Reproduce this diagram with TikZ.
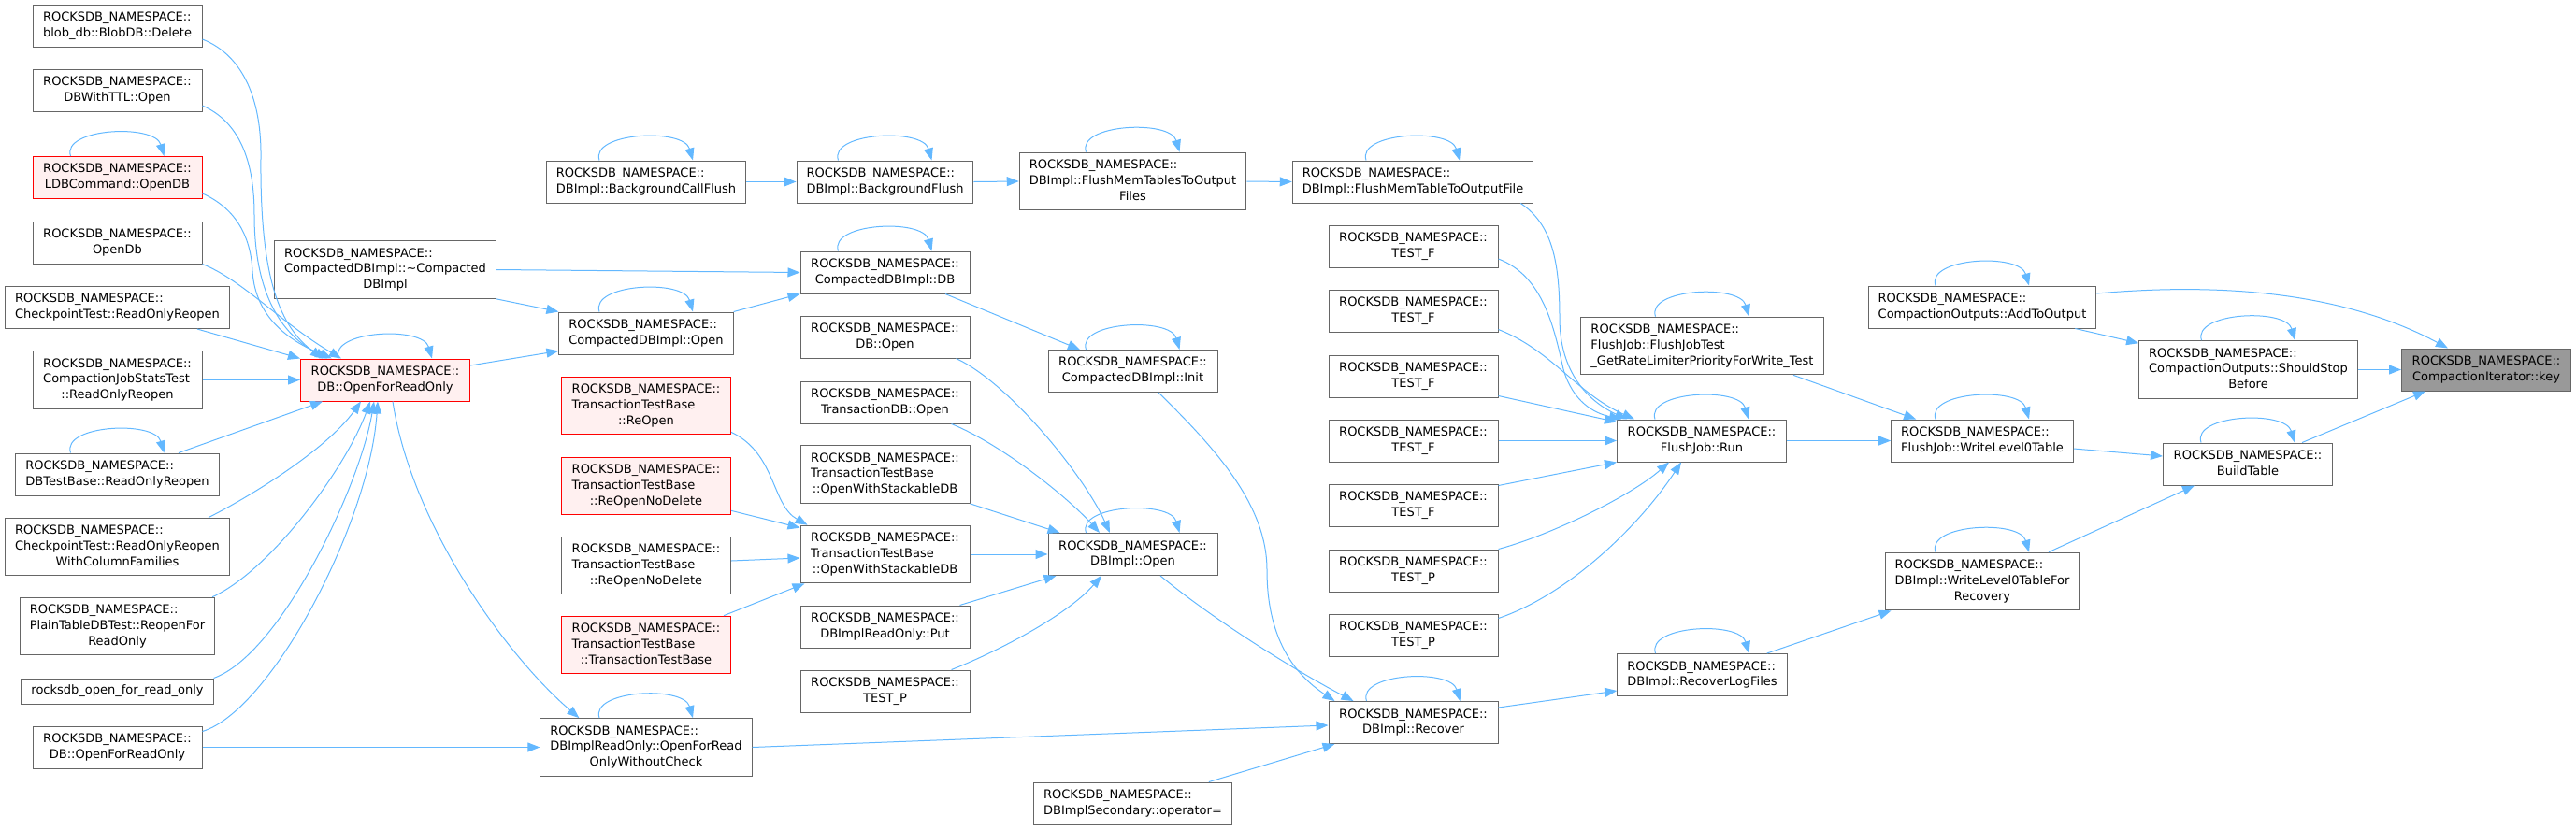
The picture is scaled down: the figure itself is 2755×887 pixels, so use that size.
\documentclass[tikz,border=0pt]{standalone}
\usepackage{fontspec}
\setmainfont{DejaVu Sans}
\usepackage{tikz}
\usetikzlibrary{arrows.meta,calc}
\definecolor{edgeblue}{HTML}{63B8FF}
\definecolor{nodegray}{HTML}{666666}
\definecolor{redfill}{HTML}{FFF0F0}
\definecolor{keyfill}{HTML}{999999}
\newcommand{\ns}{ROCKSDB\_NAMESPACE::}
\newcommand{\twol}[2]{\begin{tabular}{@{}l@{}}#1\\\multicolumn{1}{@{}c@{}}{#2}\end{tabular}}
\newcommand{\threel}[3]{\begin{tabular}{@{}l@{}}#1\\#2\\\multicolumn{1}{@{}c@{}}{#3}\end{tabular}}

\begin{document}
\begin{tikzpicture}[x=1pt, y=-1pt,
    box/.style={draw=nodegray, line width=1pt, fill=white, minimum width=181pt, minimum height=27pt, inner xsep=10.5pt, inner ysep=5.8pt, font={\fontsize{13}{16.7}\selectfont}},
    redbox/.style={box, draw=red, fill=redfill},
    mainbox/.style={box, fill=keyfill},
    arr/.style={-{Triangle[length=13pt,width=10pt]}, draw=edgeblue, line width=1pt}
]
\useasboundingbox (0,0) rectangle (2755,887);

% callers on the far left
\node[box] (blobdel) at (125.5,27.5) {\twol{\ns}{blob\_db::BlobDB::Delete}};
\node[box] (ttlopen) at (125.5,97) {\twol{\ns}{DBWithTTL::Open}};
\node[redbox] (ldbopen) at (125.5,190) {\twol{\ns}{LDBCommand::OpenDB}};
\node[box] (opendb) at (125.5,259.5) {\twol{\ns}{OpenDb}};
\node[box] (ckptreopen) at (125.5,329) {\twol{\ns}{CheckpointTest::ReadOnlyReopen}};
\node[box] (cjstreopen) at (125.5,406.5) {\threel{\ns}{CompactionJobStatsTest}{::ReadOnlyReopen}};
\node[box] (dbtbreopen) at (125.5,507.5) {\twol{\ns}{DBTestBase::ReadOnlyReopen}};
\node[box] (ckptcf) at (125.5,585) {\threel{\ns}{CheckpointTest::ReadOnlyReopen}{WithColumnFamilies}};
\node[box] (plainreopen) at (125.5,670) {\threel{\ns}{PlainTableDBTest::ReopenFor}{ReadOnly}};
\node[box] (rocksdbro) at (125.5,739.5) {rocksdb\_open\_for\_read\_only};
\node[box] (dbofro) at (125.5,799.5) {\twol{\ns}{DB::OpenForReadOnly}};

\node[box] (cdbdtor) at (412,288.5) {\threel{\ns}{CompactedDBImpl::\textasciitilde Compacted}{DBImpl}};
\node[redbox] (dbofrored) at (412,406.5) {\twol{\ns}{DB::OpenForReadOnly}};

\node[box] (bgcallflush) at (691,194.5) {\twol{\ns}{DBImpl::BackgroundCallFlush}};
\node[box] (cdbopen) at (691,356.5) {\twol{\ns}{CompactedDBImpl::Open}};
\node[redbox] (ttbreopen) at (691,434) {\threel{\ns}{TransactionTestBase}{::ReOpen}};
\node[redbox] (ttbreonodelred) at (691,520) {\threel{\ns}{TransactionTestBase}{::ReOpenNoDelete}};
\node[box] (ttbreonodel) at (691,605) {\threel{\ns}{TransactionTestBase}{::ReOpenNoDelete}};
\node[redbox] (ttbctor) at (691,690) {\threel{\ns}{TransactionTestBase}{::TransactionTestBase}};
\node[box] (rofrowc) at (691,799.5) {\threel{\ns}{DBImplReadOnly::OpenForRead}{OnlyWithoutCheck}};

\node[box] (bgflush) at (946.5,194.5) {\twol{\ns}{DBImpl::BackgroundFlush}};
\node[box] (cdbdb) at (946.5,291.5) {\twol{\ns}{CompactedDBImpl::DB}};
\node[box] (dbopen) at (946.5,360.5) {\twol{\ns}{DB::Open}};
\node[box] (txnopen) at (946.5,430.5) {\twol{\ns}{TransactionDB::Open}};
\node[box] (ttbows1) at (946.5,507.5) {\threel{\ns}{TransactionTestBase}{::OpenWithStackableDB}};
\node[box] (ttbows) at (946.5,593) {\threel{\ns}{TransactionTestBase}{::OpenWithStackableDB}};
\node[box] (roput) at (946.5,670.5) {\twol{\ns}{DBImplReadOnly::Put}};
\node[box] (testp0) at (946.5,739.5) {\twol{\ns}{TEST\_P}};

\node[box] (flushmts) at (1211.5,194) {\threel{\ns}{DBImpl::FlushMemTablesToOutput}{Files}};
\node[box] (cdbinit) at (1211.5,397) {\twol{\ns}{CompactedDBImpl::Init}};
\node[box] (implopen) at (1211.5,593) {\twol{\ns}{DBImpl::Open}};
\node[box] (secassign) at (1211.5,859.5) {\twol{\ns}{DBImplSecondary::operator=}};

\node[box] (flushmt) at (1511,194.5) {\twol{\ns}{DBImpl::FlushMemTableToOutputFile}};
\node[box] (testf1) at (1511.5,263.5) {\twol{\ns}{TEST\_F}};
\node[box] (testf2) at (1511.5,332.5) {\twol{\ns}{TEST\_F}};
\node[box] (testf3) at (1511.5,402.5) {\twol{\ns}{TEST\_F}};
\node[box] (testf4) at (1511.5,471.5) {\twol{\ns}{TEST\_F}};
\node[box] (testf5) at (1511.5,540.5) {\twol{\ns}{TEST\_F}};
\node[box] (testp1) at (1511.5,610.5) {\twol{\ns}{TEST\_P}};
\node[box] (testp2) at (1511.5,679.5) {\twol{\ns}{TEST\_P}};
\node[box] (recover) at (1511.5,773) {\twol{\ns}{DBImpl::Recover}};

\node[box] (fjtest) at (1820.5,370) {\threel{\ns}{FlushJob::FlushJobTest}{\_GetRateLimiterPriorityForWrite\_Test}};
\node[box] (fjrun) at (1820,471.5) {\twol{\ns}{FlushJob::Run}};
\node[box] (recoverlogs) at (1820.5,722) {\twol{\ns}{DBImpl::RecoverLogFiles}};

\node[box] (addtoout) at (2120,328.5) {\twol{\ns}{CompactionOutputs::AddToOutput}};
\node[box] (wl0t) at (2120,471.5) {\twol{\ns}{FlushJob::WriteLevel0Table}};
\node[box] (wl0tfr) at (2120,622) {\threel{\ns}{DBImpl::WriteLevel0TableFor}{Recovery}};

\node[box] (ssb) at (2404.5,395.5) {\threel{\ns}{CompactionOutputs::ShouldStop}{Before}};
\node[box] (buildtable) at (2404,496.5) {\twol{\ns}{BuildTable}};

\node[mainbox] (key) at (2659,395.5) {\twol{\ns}{CompactionIterator::key}};

% recursive calls
\foreach \n in {ldbopen,dbofrored,dbtbreopen,bgcallflush,cdbopen,rofrowc,bgflush,cdbdb,flushmts,cdbinit,implopen,flushmt,recover,fjtest,fjrun,recoverlogs,addtoout,wl0t,wl0tfr,ssb,buildtable}
  \draw[arr] ([xshift=-50pt]\n.north) .. controls +(-10,-30) and +(-10,-35) .. ([xshift=50pt]\n.north);

% into DB::OpenForReadOnly
\draw[arr] ($(blobdel.east)+(0,14.5)$) .. controls (262,60) and (280,110) .. (279,170) .. controls (278,300) and (300,350) .. ($(dbofrored.north)+(-67,0)$);
\draw[arr] ($(ttlopen.east)+(0,16)$) .. controls (255,130) and (272,170) .. (272,230) .. controls (272,320) and (305,360) .. ($(dbofrored.north)+(-62,0)$);
\draw[arr] ($(ldbopen.east)+(0,17)$) .. controls (250,222) and (268,250) .. (270,290) .. controls (273,340) and (310,365) .. ($(dbofrored.north)+(-57,0)$);
\draw[arr] (opendb.south east) .. controls (260,300) and (300,345) .. ($(dbofrored.north)+(-47,0)$);
\draw[arr] ($(ckptreopen.south east)+(-35,0)$) -- (dbofrored.north west);
\draw[arr] (cjstreopen.east) -- (dbofrored.west);
\draw[arr] ($(dbtbreopen.north)+(65.5,0)$) -- ($(dbofrored.south)+(-67,0)$);
\draw[arr] ($(ckptcf.north)+(97.5,0)$) .. controls (270,530) and (350,480) .. ($(dbofrored.south)+(-26,0)$);
\draw[arr] ($(plainreopen.north east)+(-3,0)$) .. controls (290,610) and (370,500) .. ($(dbofrored.south)+(-16,0)$);
\draw[arr] (rocksdbro.north east) .. controls (300,700) and (385,520) .. ($(dbofrored.south)+(-12,0)$);
\draw[arr] ($(dbofro.east)+(0,-17)$) .. controls (290,760) and (395,560) .. ($(dbofrored.south)+(-8,0)$);

% compacted db and read only
\draw[arr] ($(dbofrored.east)+(0,-15.5)$) -- ($(cdbopen.south west)+(0,-4)$);
\draw[arr] ($(dbofrored.south)+(8,0)$) .. controls (440,560) and (540,700) .. ($(rofrowc.north west)+(42,0)$);
\draw[arr] (dbofro.east) -- (rofrowc.west);
\draw[arr] (cdbdtor.east) -- (cdbdb.west);
\draw[arr] (cdbdtor.south east) -- (cdbopen.north west);
\draw[arr] (cdbopen.north east) -- (cdbdb.south west);
\draw[arr] ($(cdbdb.south)+(64.5,0)$) -- ($(cdbinit.north)+(-56.5,0)$);
\draw[arr] ($(cdbinit.south)+(27.5,0)$) .. controls (1300,480) and (1355,540) .. (1355,610) .. controls (1355,690) and (1390,725) .. ($(recover.north west)+(7,0)$);

% flush chain
\draw[arr] (bgcallflush.east) -- (bgflush.west);
\draw[arr] (bgflush.east) -- (flushmts.west);
\draw[arr] (flushmts.east) -- (flushmt.west);
\draw[arr] ($(flushmt.south east)+(-14,0)$) .. controls (1660,240) and (1668,280) .. (1668,340) .. controls (1668,400) and (1700,430) .. ($(fjrun.north west)+(11,0)$);

% into DBImpl::Open
\draw[arr] ($(dbopen.south east)+(-15,0)$) .. controls (1080,410) and (1160,510) .. ($(implopen.north)+(-24.5,0)$);
\draw[arr] ($(txnopen.south east)+(-20,0)$) .. controls (1070,475) and (1140,530) .. ($(implopen.north)+(-35.5,0)$);
\draw[arr] (ttbows1.south east) -- ($(implopen.north west)+(13,0)$);
\draw[arr] (ttbows.east) -- (implopen.west);
\draw[arr] ($(roput.north east)+(-11,0)$) -- ($(implopen.south west)+(9,0)$);
\draw[arr] ($(testp0.north east)+(-20,0)$) .. controls (1060,700) and (1140,660) .. ($(implopen.south)+(-33.5,0)$);

% into OpenWithStackableDB
\draw[arr] ($(ttbreopen.south east)+(0,-3)$) .. controls (830,485) and (825,540) .. ($(ttbows.north west)+(8,0)$);
\draw[arr] ($(ttbreonodelred.south east)+(0,-5)$) -- ($(ttbows.north west)+(0,3)$);
\draw[arr] ($(ttbreonodel.east)+(0,-5)$) -- ($(ttbows.west)+(0,4)$);
\draw[arr] ($(ttbctor.north east)+(-8,0)$) -- ($(ttbows.south west)+(5,0)$);

% into DBImpl::Recover
\draw[arr] ($(implopen.south)+(29.5,0)$) .. controls (1300,665) and (1390,720) .. ($(recover.north west)+(27,0)$);
\draw[arr] (rofrowc.east) -- ($(recover.west)+(0,3)$);
\draw[arr] ($(secassign.north east)+(-25,0)$) -- ($(recover.south west)+(7,0)$);
\draw[arr] ($(recover.east)+(0,-16)$) -- ($(recoverlogs.west)+(0,17)$);

% into FlushJob::Run
\draw[arr] ($(testf1.east)+(0,13.5)$) .. controls (1650,295) and (1662,350) .. (1672,395) .. controls (1682,430) and (1705,442) .. ($(fjrun.north west)+(5,0)$);
\draw[arr] ($(testf2.south east)+(0,-3)$) .. controls (1660,375) and (1685,420) .. ($(fjrun.north west)+(19,0)$);
\draw[arr] ($(testf3.south east)+(0,-2)$) -- ($(fjrun.north west)+(0,3)$);
\draw[arr] (testf4.east) -- (fjrun.west);
\draw[arr] ($(testf5.north east)+(0,2)$) -- (fjrun.south west);
\draw[arr] (testp1.north east) .. controls (1660,572) and (1745,530) .. ($(fjrun.south)+(-35,0)$);
\draw[arr] ($(testp2.north east)+(0,5)$) .. controls (1680,635) and (1755,560) .. ($(fjrun.south)+(-22,0)$);

% right part
\draw[arr] (fjrun.east) -- (wl0t.west);
\draw[arr] ($(fjtest.south)+(97.5,0)$) -- ($(wl0t.north west)+(27,0)$);
\draw[arr] ($(recoverlogs.north east)+(-22,0)$) -- ($(wl0tfr.south west)+(7,0)$);
\draw[arr] ($(wl0t.east)+(0,8.5)$) -- ($(buildtable.west)+(0,-8.5)$);
\draw[arr] ($(wl0tfr.north)+(71,0)$) -- ($(buildtable.south)+(-57,0)$);
\draw[arr] ($(addtoout.south east)+(-23,0)$) -- ($(ssb.north west)+(0,3)$);
\draw[arr] ($(addtoout.east)+(0,-14.5)$) .. controls (2400,300) and (2520,320) .. ($(key.north)+(-41,0)$);
\draw[arr] (ssb.east) -- (key.west);
\draw[arr] ($(buildtable.north)+(58,0)$) -- ($(key.south)+(-65,0)$);
\end{tikzpicture}
\end{document}
